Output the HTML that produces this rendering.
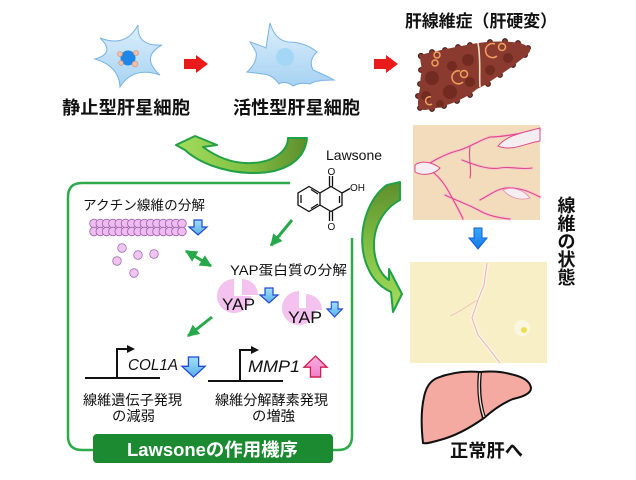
<!DOCTYPE html>
<html><head><meta charset="utf-8">
<style>
html,body{margin:0;padding:0;background:#fff;}
svg{display:block;}
text{font-family:"Liberation Sans","Noto Sans CJK JP",sans-serif;fill:#111;}
</style></head>
<body>
<svg width="636" height="480" viewBox="0 0 636 480" xmlns="http://www.w3.org/2000/svg">
<defs>
  <linearGradient id="cellg" x1="0" y1="0" x2="0" y2="1">
    <stop offset="0" stop-color="#dcefFb"/><stop offset="1" stop-color="#a6d2f2"/>
  </linearGradient>
  <linearGradient id="g1" x1="178" y1="0" x2="307" y2="0" gradientUnits="userSpaceOnUse">
    <stop offset="0" stop-color="#a2dc5c"/><stop offset="0.55" stop-color="#7fbf42"/><stop offset="1" stop-color="#5e8e2c"/>
  </linearGradient>
  <linearGradient id="g2" x1="0" y1="182" x2="0" y2="312" gradientUnits="userSpaceOnUse">
    <stop offset="0" stop-color="#5e8e2c"/><stop offset="0.5" stop-color="#80c044"/><stop offset="1" stop-color="#a6dc5e"/>
  </linearGradient>
  <linearGradient id="bl" x1="0" y1="0" x2="0" y2="1">
    <stop offset="0" stop-color="#9fe0fa"/><stop offset="1" stop-color="#5aaeea"/>
  </linearGradient>
  <linearGradient id="bb" x1="0" y1="0" x2="0" y2="1">
    <stop offset="0" stop-color="#38a8f8"/><stop offset="1" stop-color="#1478e8"/>
  </linearGradient>
  <linearGradient id="pk" x1="0" y1="0" x2="0" y2="1">
    <stop offset="0" stop-color="#f8b0e4"/><stop offset="1" stop-color="#f080c8"/>
  </linearGradient>
  <marker id="ga" viewBox="0 0 10 10" refX="9" refY="5" markerWidth="12" markerHeight="12" markerUnits="userSpaceOnUse" orient="auto-start-reverse">
    <path d="M0,0 L10,5 L0,10 z" fill="#27a84a"/>
  </marker>
</defs>

<!-- Cell 1 (quiescent) -->
<path d="M138,25 Q137,47 162,45 Q140,57 160,75 Q133,66 120,87 Q119,66 95,59 Q116,53 100,38 Q126,48 138,25 Z" fill="url(#cellg)" stroke="#78b4e2" stroke-width="1"/>
<circle cx="128" cy="58" r="7.5" fill="#1e86e6"/>
<circle cx="120" cy="54" r="2.5" fill="#f2c0a8" stroke="#d88c6c" stroke-width="0.6"/>
<circle cx="136" cy="53" r="2.5" fill="#f2c0a8" stroke="#d88c6c" stroke-width="0.6"/>
<circle cx="135" cy="64" r="2.8" fill="#f2c0a8" stroke="#d88c6c" stroke-width="0.6"/>
<circle cx="121" cy="63" r="2.3" fill="#f2c0a8" stroke="#d88c6c" stroke-width="0.6"/>

<!-- red arrow 1 -->
<path d="M184,59 H196 V55 L208,64 L196,73 V69 H184 Z" fill="#e81a1a"/>

<!-- Cell 2 (activated) -->
<path d="M270,23 Q275,40 288,42 Q305,42 317,52 Q308,60 313,70 Q325,75 334,80 Q315,80 310,84 Q300,82 293,86 Q285,80 279,84 Q272,74 262,74 Q255,73 247,72 Q258,62 256,52 Q252,45 250,42 Q262,46 266,48 Q268,35 270,23 Z" fill="url(#cellg)" stroke="#78b4e2" stroke-width="1"/>
<circle cx="285" cy="57" r="9" fill="#a4d6f5"/>

<!-- red arrow 2 -->
<path d="M374,59 H386 V55 L398,64 L386,73 V69 H374 Z" fill="#e81a1a"/>

<text x="62" y="114" font-size="18" font-weight="bold" textLength="128" lengthAdjust="spacingAndGlyphs">静止型肝星細胞</text>
<text x="233" y="114" font-size="18" font-weight="bold" textLength="127" lengthAdjust="spacingAndGlyphs">活性型肝星細胞</text>

<!-- Fibrotic liver -->
<text x="405" y="27" font-size="17" font-weight="bold" textLength="152" lengthAdjust="spacingAndGlyphs">肝線維症（肝硬変）</text>
<g>
  <g fill="#8a3a2e" stroke="#3a1410" stroke-width="1">
    <circle cx="421" cy="56" r="2.6"/><circle cx="432" cy="52" r="2.4"/><circle cx="445" cy="50" r="2.4"/><circle cx="458" cy="47" r="2.4"/><circle cx="470" cy="45" r="2.4"/>
    <circle cx="490" cy="42" r="2.4"/><circle cx="505" cy="41" r="2.4"/><circle cx="518" cy="43" r="2.4"/><circle cx="528" cy="48" r="2.4"/><circle cx="525" cy="55" r="2.4"/>
    <circle cx="513" cy="65" r="2.4"/><circle cx="500" cy="75" r="2.4"/><circle cx="488" cy="84" r="2.4"/><circle cx="470" cy="95" r="2.4"/><circle cx="457" cy="101" r="2.4"/>
    <circle cx="444" cy="106" r="2.4"/><circle cx="432" cy="109" r="2.4"/><circle cx="420" cy="108" r="2.4"/><circle cx="418" cy="96" r="2.4"/><circle cx="420" cy="84" r="2.4"/><circle cx="421" cy="70" r="2.4"/>
  </g>
  <path d="M420,55 C440,50 460,46 478,43 C492,41 508,41 520,43 C526,45 531,48 530,51 C528,55 523,58 518,62 C508,70 495,78 485,85 L477,89 C470,95 462,99 455,102 C445,106 435,109 425,110 C420,110 418,108 418,104 C418,98 419,92 420,88 C420,80 421,75 422,70 C421,64 420,60 420,55 Z" fill="#8a3a2e"/>
  <g fill="#5e2018" opacity="0.55">
    <circle cx="432" cy="78" r="7"/><circle cx="450" cy="92" r="7"/><circle cx="468" cy="60" r="6"/>
    <circle cx="426" cy="96" r="5"/><circle cx="508" cy="58" r="5"/><circle cx="452" cy="66" r="5"/>
    <circle cx="490" cy="70" r="5"/><circle cx="440" cy="104" r="4"/><circle cx="470" cy="82" r="5"/>
  </g>
  <path d="M478,43 C481,60 479,75 480,87" fill="none" stroke="#f2e2c4" stroke-width="1.6"/>
  <g fill="none" stroke="#f2a060" stroke-width="1.5">
    <circle cx="437" cy="55" r="3"/><circle cx="435" cy="63" r="3"/>
    <path d="M460,71 A6.5,6.5 0 1 0 463,82"/><circle cx="464" cy="74" r="3.5"/>
    <path d="M495,44 A7,7 0 1 0 497,56"/><circle cx="502" cy="47" r="3.5"/>
    <path d="M431,97 A4,4 0 1 0 432,104"/>
  </g>
</g>

<!-- Histology 1 -->
<rect x="413" y="125" width="127" height="95" fill="#f2dcbb"/>
<g fill="none" stroke-linecap="round" stroke-linejoin="round">
  <g stroke="#f6c6cc" stroke-width="3">
    <path d="M540,130 C520,133 505,137 490,137 C480,140 472,146 460,150 C448,153 438,158 430,163"/>
    <path d="M433,172 C440,178 446,186 450,194 C455,203 459,210 463,219"/>
    <path d="M540,197 C530,192 520,187 505,188 C495,190 488,196 480,200"/>
    <path d="M462,160 C475,165 488,170 500,168 C510,166 520,170 532,168"/>
    <path d="M445,195 C455,200 470,205 482,212 C490,216 500,218 510,219"/>
  </g>
  <g stroke="#e04888" stroke-width="1.1">
    <path d="M540,130 C520,133 505,137 490,137 C480,140 472,146 460,150 C448,153 438,158 430,163"/>
    <path d="M433,172 C440,178 446,186 450,194 C455,203 459,210 463,219"/>
    <path d="M540,197 C530,192 520,187 505,188 C495,190 488,196 480,200"/>
    <path d="M462,160 C475,165 488,170 500,168 C510,166 520,170 532,168"/>
    <path d="M445,195 C455,200 470,205 482,212 C490,216 500,218 510,219"/>
    <path d="M470,147 C468,158 472,168 470,178"/>
  </g>
</g>
<path d="M498,146 C506,136 520,133 540,128 L540,141 C526,143 512,152 498,146 Z" fill="#f4eef0" stroke="#e04888" stroke-width="1"/>
<path d="M415,165 C422,160 432,162 440,168 C434,175 422,176 415,172 Z" fill="#f4eef0" stroke="#e04888" stroke-width="1"/>
<path d="M503,190 C512,186 524,190 530,198 C520,201 510,198 503,190 Z" fill="#f4eef0" stroke="#e88ab0" stroke-width="0.8"/>

<!-- big blue down arrow -->
<path d="M474,228 H482 V238 H487 L478,249 L469,238 H474 Z" fill="url(#bb)" stroke="#1060d0" stroke-width="1"/>

<!-- Histology 2 -->
<rect x="410" y="262" width="137" height="101" fill="#f8efc6"/>
<path d="M487,263 L484,285 L478,300 L472,318 L478,335 L490,350 L500,363" fill="none" stroke="#fbf4e4" stroke-width="4"/>
<path d="M487,263 L484,285 L478,300 L472,318 L478,335 L490,350 L500,363" fill="none" stroke="#e8b0b0" stroke-width="1"/>
<path d="M478,300 C468,305 460,312 450,316" fill="none" stroke="#ecc0b8" stroke-width="0.8"/>
<circle cx="522" cy="328" r="8" fill="#fbf6e2"/>
<circle cx="524" cy="330" r="3" fill="#f0dc50"/>

<!-- vertical text -->
<g font-size="18" font-weight="bold" text-anchor="middle">
  <text x="566.5" y="212">線</text>
  <text x="566.5" y="230">維</text>
  <text x="566.5" y="248">の</text>
  <text x="566.5" y="266">状</text>
  <text x="566.5" y="284">態</text>
</g>

<!-- Normal liver -->
<path d="M423,443 C421,425 421,410 424,397 C426,387 430,381 437,378 C452,372 468,371 480,372 C490,371 500,371 510,374 C520,376 530,380 531,388 C531,394 522,397 513,399 C503,403 493,410 484,418 C470,428 455,436 440,440 C432,442 427,444 423,443 Z" fill="#f4aaa0" stroke="#111" stroke-width="2"/>
<path d="M480,372 C478,390 480,405 484,418" fill="none" stroke="#111" stroke-width="4"/>
<path d="M480,373 C478,390 480,405 484,417" fill="none" stroke="#f6d8d2" stroke-width="1.4"/>
<text x="450" y="457" font-size="18" font-weight="bold" textLength="73" lengthAdjust="spacingAndGlyphs">正常肝へ</text>

<!-- top curved green arrow -->
<path d="M307,138 C305,160 285,174 250,173 C222,172 198,162 185,150 L176,145 L195,136 L217,145 L203,147 C218,158 235,164 252,163 C275,162 288,150 288,138 Z" fill="url(#g1)" stroke="#22a045" stroke-width="2" stroke-linejoin="round"/>

<!-- right curved green arrow -->
<path d="M387,185 C365,200 355,240 368,268 C373,280 382,288 391,292 L393,312 L402,294 L389,269 L389,280 C380,274 375,262 374,248 C373,225 385,208 400,200 L400,182 Z" fill="url(#g2)" stroke="#22a045" stroke-width="2" stroke-linejoin="round"/>

<!-- Lawsone -->
<text x="326" y="160" font-size="14">Lawsone</text>
<g fill="none" stroke="#111" stroke-width="1.3">
  <path d="M331,186.5 L342,193 L342,205.5 L331,211.5 L320,205 L320,193 Z"/>
  <path d="M320,193 L309,186.5 L298,193 L298,205 L309,211.5 L320,205"/>
  <path d="M301,195 L301,203 M311,189.5 L318,194 M311,208.5 L318,204"/>
  <path d="M339.5,196 L339.5,203"/>
  <path d="M329.5,186.5 V176 M332.5,186.5 V176"/>
  <path d="M329.5,211.5 V221 M332.5,211.5 V221"/>
  <path d="M342,193 L350,188.5"/>
</g>
<text x="327.5" y="175" font-size="10">O</text>
<text x="327.5" y="230" font-size="10">O</text>
<text x="350" y="191" font-size="10">OH</text>

<!-- frame -->
<path d="M290,183 H82 Q68,183 68,197 V436 Q68,450 82,450 H93" fill="none" stroke="#2eaa4a" stroke-width="2.5"/>
<path d="M352,238 V436 Q352,450 338,450 H333" fill="none" stroke="#2eaa4a" stroke-width="2.5"/>
<rect x="93" y="434" width="240" height="29" rx="4" fill="#1c8a30"/>
<text x="127" y="456" font-size="18" font-weight="bold" fill="#fff" style="fill:#fff" textLength="171" lengthAdjust="spacingAndGlyphs">Lawsoneの作用機序</text>

<!-- actin -->
<text x="83" y="210" font-size="13.5" textLength="122" lengthAdjust="spacingAndGlyphs">アクチン線維の分解</text>
<g fill="#eebcf0" stroke="#9c62a8" stroke-width="0.8">
  <circle cx="94" cy="223.5" r="4.3"/><circle cx="100.3" cy="223.5" r="4.3"/><circle cx="106.6" cy="223.5" r="4.3"/><circle cx="112.9" cy="223.5" r="4.3"/><circle cx="119.2" cy="223.5" r="4.3"/><circle cx="125.5" cy="223.5" r="4.3"/><circle cx="131.8" cy="223.5" r="4.3"/><circle cx="138.1" cy="223.5" r="4.3"/><circle cx="144.4" cy="223.5" r="4.3"/><circle cx="150.7" cy="223.5" r="4.3"/><circle cx="157" cy="223.5" r="4.3"/><circle cx="163.3" cy="223.5" r="4.3"/><circle cx="169.6" cy="223.5" r="4.3"/><circle cx="175.9" cy="223.5" r="4.3"/><circle cx="182" cy="223.5" r="4.3"/>
  <circle cx="94" cy="231.5" r="4.3"/><circle cx="100.3" cy="231.5" r="4.3"/><circle cx="106.6" cy="231.5" r="4.3"/><circle cx="112.9" cy="231.5" r="4.3"/><circle cx="119.2" cy="231.5" r="4.3"/><circle cx="125.5" cy="231.5" r="4.3"/><circle cx="131.8" cy="231.5" r="4.3"/><circle cx="138.1" cy="231.5" r="4.3"/><circle cx="144.4" cy="231.5" r="4.3"/><circle cx="150.7" cy="231.5" r="4.3"/><circle cx="157" cy="231.5" r="4.3"/><circle cx="163.3" cy="231.5" r="4.3"/><circle cx="169.6" cy="231.5" r="4.3"/><circle cx="175.9" cy="231.5" r="4.3"/><circle cx="182" cy="231.5" r="4.3"/>
</g>
<g fill="#f2c4f2" stroke="#a070b0" stroke-width="0.8">
  <circle cx="122" cy="248" r="4.3"/><circle cx="138" cy="255" r="4.3"/><circle cx="154" cy="254" r="4.3"/>
  <circle cx="117" cy="261" r="4.3"/><circle cx="134" cy="273" r="4.3"/>
</g>
<path transform="translate(189,220)" d="M5,0 H13 V7 H18 L9,15 L0,7 H5 Z" fill="url(#bl)" stroke="#1f48d0" stroke-width="1.2"/>

<!-- green small arrows -->
<g stroke="#27a84a" stroke-width="3" fill="none">
  <path d="M292,220 L271,245.5" marker-end="url(#ga)"/>
  <path d="M186,251 L211,266" marker-start="url(#ga)" marker-end="url(#ga)"/>
  <path d="M212,317 L188,336" marker-end="url(#ga)"/>
</g>

<!-- YAP -->
<text x="230" y="275" font-size="13.5" textLength="117" lengthAdjust="spacingAndGlyphs">YAP蛋白質の分解</text>
<path d="M234,296 L234,279 A17,17 0 1 0 251,296 Z" fill="#f4c2ee"/>
<path d="M242,295 L242,279 A16,16 0 0 1 258,295 Z" fill="#f4c2ee"/>
<text x="222" y="310" font-size="17" textLength="33" lengthAdjust="spacingAndGlyphs">YAP</text>
<path transform="translate(260,288)" d="M5,0 H13 V7 H18 L9,15 L0,7 H5 Z" fill="url(#bl)" stroke="#1f48d0" stroke-width="1.2"/>

<path d="M299,308 L299,291 A17,17 0 1 0 316,308 Z" fill="#f4c2ee"/>
<path d="M306,310 L306,294 A16,16 0 0 1 322,310 Z" fill="#f4c2ee"/>
<text x="288" y="323" font-size="17" textLength="34" lengthAdjust="spacingAndGlyphs">YAP</text>
<path transform="translate(327,302) scale(0.85,1)" d="M5,0 H13 V7 H18 L9,15 L0,7 H5 Z" fill="url(#bl)" stroke="#1f48d0" stroke-width="1.2"/>

<!-- genes -->
<g stroke="#111" stroke-width="2" fill="none">
  <path d="M85,378 H160"/>
  <path d="M117,378 V349 H128"/>
  <path d="M208,381 H283"/>
  <path d="M240,381 V350 H252"/>
</g>
<path d="M127,345 L135,349 L127,353 Z" fill="#111"/>
<path d="M251,346 L259,350 L251,354 Z" fill="#111"/>
<text x="128" y="370" font-size="16" font-style="italic" textLength="50" lengthAdjust="spacingAndGlyphs">COL1A</text>
<text x="248" y="372" font-size="17" font-style="italic" textLength="52" lengthAdjust="spacingAndGlyphs">MMP1</text>
<path transform="translate(182,357) scale(1.28,1.33)" d="M5,0 H13 V7 H18 L9,15 L0,7 H5 Z" fill="url(#bl)" stroke="#1f48d0" stroke-width="1"/>
<path transform="translate(304,356) scale(1.28,1.4)" d="M5,15 H13 V8 H18 L9,0 L0,8 H5 Z" fill="url(#pk)" stroke="#d02050" stroke-width="1"/>

<text x="83" y="405" font-size="14" textLength="99" lengthAdjust="spacingAndGlyphs">線維遺伝子発現</text>
<text x="112" y="421" font-size="14" textLength="43" lengthAdjust="spacingAndGlyphs">の減弱</text>
<text x="215" y="405" font-size="14" textLength="113" lengthAdjust="spacingAndGlyphs">線維分解酵素発現</text>
<text x="252" y="421" font-size="14" textLength="43" lengthAdjust="spacingAndGlyphs">の増強</text>
</svg>
</body></html>
